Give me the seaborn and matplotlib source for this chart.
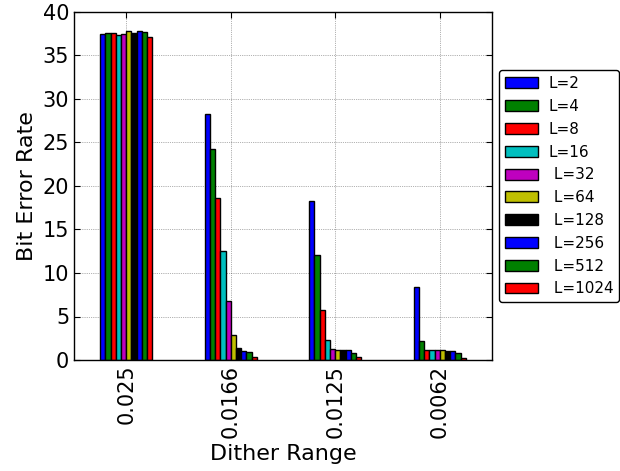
import matplotlib
matplotlib.use("Agg")
import matplotlib.pyplot as plt
from matplotlib.patches import Patch
import pandas as pd
import seaborn as sns

# Dither range categories and quantizer levels
dither_ranges = ["0.025", "0.0166", "0.0125", "0.0062"]
levels = ["L=2", "L=4", "L=8", "L=16", " L=32", " L=64", " L=128", " L=256", " L=512", " L=1024"]

# Bit error rate (%) for each level, one list per dither range
ber_0025 = [37.5, 37.55, 37.55, 37.4, 37.5, 37.8, 37.55, 37.8, 37.7, 37.1]
ber_00166 = [28.3, 24.2, 18.6, 12.5, 6.8, 2.85, 1.4, 1.05, 0.9, 0.4]
ber_00125 = [18.3, 12.1, 5.75, 2.3, 1.25, 1.1, 1.2, 1.1, 0.75, 0.4]
ber_00062 = [8.4, 2.2, 1.2, 1.2, 1.2, 1.1, 1.05, 1.05, 0.75, 0.25]

colors = ["#0000ff", "#008000", "#ff0000", "#00bfbf", "#bf00bf",
          "#bfbf00", "#000000", "#0000ff", "#008000", "#ff0000"]

rows = []
for dr, vals in zip(dither_ranges, [ber_0025, ber_00166, ber_00125, ber_00062]):
    for lv, v in zip(levels, vals):
        rows.append({"Dither Range": dr, "Level": lv, "BER": v})
df = pd.DataFrame(rows)

sns.set_style("ticks")
plt.rcParams["font.family"] = ["DejaVu Sans"]
plt.rcParams["text.color"] = "black"
plt.rcParams["axes.labelcolor"] = "black"
plt.rcParams["xtick.color"] = "black"
plt.rcParams["ytick.color"] = "black"

fig = plt.figure(figsize=(6.2, 4.71), dpi=100)
ax = fig.add_axes([74 / 620, 111 / 471, 418 / 620, 348 / 471])

sns.barplot(data=df, x="Dither Range", y="BER", hue="Level",
            order=dither_ranges, hue_order=levels, palette=colors,
            width=0.5, edgecolor="black", linewidth=1.0, saturation=1,
            legend=False, ax=ax)

ax.set_ylim(0, 40)
ax.set_xlim(-0.5, 3.5)
ax.set_yticks(range(0, 41, 5))
ax.grid(True, color="black", linestyle=":", linewidth=0.5, alpha=0.6)
ax.set_axisbelow(True)
for s in ax.spines.values():
    s.set_visible(True)
    s.set_color("black")
    s.set_linewidth(1.0)
ax.tick_params(axis="both", which="major", labelsize=15, length=4, width=0.8,
               top=True, right=True, direction="in", colors="black",
               labelcolor="black")
plt.setp(ax.get_xticklabels(), rotation=90)
ax.set_xlabel("Dither Range", fontsize=16, color="black")
ax.set_ylabel("Bit Error Rate", fontsize=16, color="black")

handles = [Patch(facecolor=c, edgecolor="black", linewidth=1.0) for c in colors]
ax.legend(handles, levels, loc="upper left", bbox_to_anchor=(1.0167, 0.833),
          borderaxespad=0, fontsize=11, frameon=True, fancybox=True,
          edgecolor="black", framealpha=1, handlelength=2.15, handleheight=0.72,
          labelspacing=0.51, handletextpad=0.7, borderpad=0.4)

fig.savefig("out.png", dpi=100)
